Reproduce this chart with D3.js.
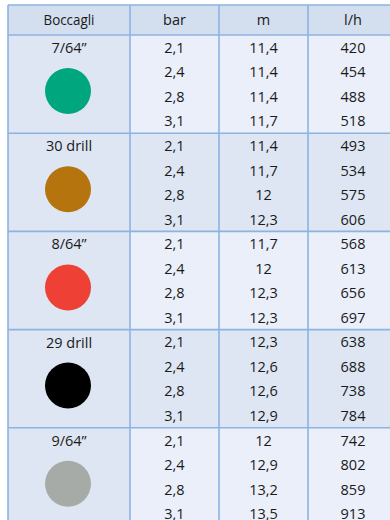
<!DOCTYPE html>
<html><head><meta charset="utf-8">
<script src="https://cdn.jsdelivr.net/npm/d3@7"></script>
<style>html,body{margin:0;padding:0;background:#fff;}svg{display:block;}</style>
</head><body>
<script>
const headers = ["Boccagli", "bar", "m", "l/h"];
const nozzles = ["7/64\u201D", "30 drill", "8/64\u201D", "29 drill", "9/64\u201D"];
const nozzleColors = ["#00a67e", "#b5740e", "#ef4036", "#000000", "#a6aba8"];
const pressure = [2.1, 2.4, 2.8, 3.1];
const reach = [
  [11.4, 11.4, 11.4, 11.7],
  [11.4, 11.7, 12, 12.3],
  [11.7, 12, 12.3, 12.3],
  [12.3, 12.6, 12.6, 12.9],
  [12, 12.9, 13.2, 13.5]
];
const flow = [
  [420, 454, 488, 518],
  [493, 534, 575, 606],
  [568, 613, 656, 697],
  [638, 688, 738, 784],
  [742, 802, 859, 913]
];

const W = 390, H = 520;
const svg = d3.select("body").append("svg").attr("width", W).attr("height", H);
const fmt = v => String(v).replace(".", ",");

const colEdges = [8, 130, 219, 308, 398];
const headTop = 5, headBot = 35, rowH = 24.55;
const rows = [];
nozzles.forEach((n, g) => pressure.forEach((p, i) => rows.push({g, i, bar: pressure[i], m: reach[g][i], lh: flow[g][i]})));
const y = d3.scaleBand().domain(d3.range(rows.length)).range([headBot, headBot + rowH * rows.length]).padding(0);
const col = d3.scaleOrdinal().domain(headers).range([0,1,2,3]);
const cx = k => (colEdges[k] + colEdges[k+1]) / 2;

const font = "'Open Sans', 'Noto Sans', sans-serif";
const lineColor = "#8db3e2";

// header
svg.append("rect").attr("x", colEdges[0]).attr("y", headTop).attr("width", colEdges[4]-colEdges[0]).attr("height", headBot-headTop).attr("fill", "#d3deef");
// left column bg
svg.append("rect").attr("x", colEdges[0]).attr("y", headBot).attr("width", colEdges[1]-colEdges[0]).attr("height", H).attr("fill", "#dee6f3");
// data group bg
const gH = rowH * 4;
svg.selectAll("rect.grp").data(nozzles).join("rect").attr("class","grp")
  .attr("x", colEdges[1]).attr("y", (d,g) => y(g*4)).attr("width", colEdges[4]-colEdges[1]).attr("height", gH)
  .attr("fill", (d,g) => g % 2 ? "#dee6f3" : "#eaeff9");

// header text
svg.selectAll("text.h").data(headers).join("text").attr("class","h")
  .attr("x", d => cx(col(d))).attr("y", (headTop+headBot)/2 + 5)
  .attr("text-anchor","middle").attr("font-family", font).attr("font-size", (d,i)=> i===0 ? 14 : 14.5)
  .attr("textLength", (d,i) => i===0 ? 51 : null).attr("lengthAdjust", "spacingAndGlyphs")
  .attr("fill","#1a1a1a").text(d => d);

// nozzle labels and circles
svg.selectAll("text.n").data(nozzles).join("text").attr("class","n")
  .attr("x", cx(0)).attr("y", (d,g) => y(g*4) + 18)
  .attr("text-anchor","middle").attr("font-family", font).attr("font-size", 14.5).attr("fill","#1a1a1a").text(d => d);
svg.selectAll("circle.n").data(nozzleColors).join("circle").attr("class","n")
  .attr("cx", cx(0) - 1).attr("cy", (d,g) => y(g*4) + 56).attr("r", 23).attr("fill", d => d);

// data cells
["bar","m","lh"].forEach((k, j) => {
  svg.selectAll("text.c"+k).data(rows).join("text").attr("class","c"+k)
    .attr("x", cx(j+1)).attr("y", (d, idx) => y(idx) + y.bandwidth()/2 + 5.5)
    .attr("text-anchor","middle").attr("font-family", font).attr("font-size", 14.5).attr("fill","#1a1a1a")
    .text(d => fmt(d[k]));
});

// grid lines
const gl = svg.append("g").attr("stroke", lineColor).attr("stroke-width", 1.6).attr("fill","none");
gl.append("line").attr("x1", colEdges[0]).attr("x2", W).attr("y1", headTop).attr("y2", headTop);
gl.append("line").attr("x1", colEdges[0]).attr("x2", W).attr("y1", headBot).attr("y2", headBot);
nozzles.forEach((n,g) => { if (g>0) gl.append("line").attr("x1", colEdges[0]).attr("x2", W).attr("y1", y(g*4)).attr("y2", y(g*4)); });
colEdges.slice(0,4).forEach(x => gl.append("line").attr("x1", x).attr("x2", x).attr("y1", headTop).attr("y2", H));
</script>
</body></html>
